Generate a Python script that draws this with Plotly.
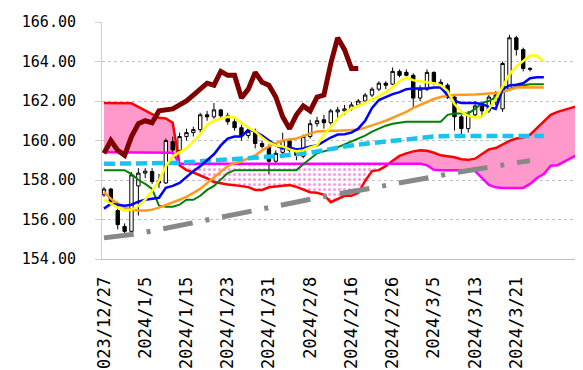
import plotly.graph_objects as go

# ---------------- data ----------------
tick_labels = ["2023/12/27", "2024/1/5", "2024/1/15", "2024/1/23", "2024/1/31",
               "2024/2/8", "2024/2/16", "2024/2/26", "2024/3/5", "2024/3/13", "2024/3/21"]
tick_pos = [0, 6, 12, 18, 24, 30, 36, 42, 48, 54, 60]

opens = [157.25, 157.54, 156.45, 155.65, 155.40, 157.70, 158.35, 158.43, 157.95, 157.85,
         159.95, 159.50, 160.20, 160.40, 160.55, 161.30, 161.20, 161.55, 161.25, 160.95,
         160.65, 160.25, 160.45, 159.85, 159.70, 158.95, 159.40, 160.00, 159.50, 159.20,
         160.20, 160.85, 161.05, 160.90, 161.45, 161.50, 161.60, 161.80, 162.00, 162.30,
         162.60, 162.90, 162.85, 163.50, 163.45, 163.30, 162.15, 162.60, 163.45, 162.95,
         162.80, 162.20, 161.20, 160.60, 161.30, 161.75, 161.50, 161.95, 161.60, 162.60,
         165.20, 164.60, 163.60]
highs = [157.65, 157.60, 156.90, 155.80, 158.40, 158.60, 158.60, 158.60, 158.30, 160.10,
         160.20, 160.40, 160.60, 160.70, 161.40, 161.50, 161.90, 161.60, 161.40, 161.10,
         160.80, 160.70, 160.60, 160.00, 159.80, 159.50, 160.40, 160.10, 159.60, 160.30,
         161.05, 161.20, 161.30, 161.60, 161.70, 161.80, 161.95, 162.10, 162.40, 162.70,
         163.00, 163.00, 163.70, 163.60, 163.60, 163.40, 162.80, 163.60, 163.50, 163.10,
         162.90, 162.30, 161.30, 161.50, 162.00, 161.85, 162.30, 162.50, 164.00, 165.35,
         165.30, 164.70, 163.70]
lows = [157.15, 156.80, 155.50, 155.25, 155.30, 156.20, 158.10, 157.80, 157.60, 157.80,
        159.40, 159.30, 160.00, 160.20, 160.40, 161.00, 161.10, 161.10, 160.80, 160.50,
        160.00, 160.10, 159.60, 159.60, 158.30, 158.80, 159.30, 159.40, 159.00, 159.10,
        160.10, 160.70, 160.60, 160.80, 161.00, 161.30, 161.50, 161.70, 161.85, 162.20,
        162.50, 162.60, 162.80, 163.20, 163.20, 161.70, 162.00, 162.50, 162.80, 162.60,
        162.10, 160.50, 160.20, 160.40, 161.20, 161.20, 161.40, 161.80, 161.45, 162.50,
        164.30, 163.50, 163.50]
closes = [157.54, 156.92, 155.74, 155.40, 158.26, 158.35, 158.45, 157.92, 157.85, 160.00,
          159.52, 160.20, 160.40, 160.55, 161.30, 161.20, 161.55, 161.25, 160.95, 160.65,
          160.25, 160.45, 159.85, 159.70, 158.95, 159.35, 160.00, 159.50, 159.25, 160.20,
          160.85, 161.00, 160.90, 161.50, 161.55, 161.60, 161.80, 162.00, 162.30, 162.60,
          162.90, 162.80, 163.50, 163.30, 163.30, 162.15, 162.60, 163.45, 162.95, 162.80,
          162.20, 161.20, 160.60, 161.30, 161.75, 161.50, 162.20, 162.30, 163.90, 165.20,
          164.60, 163.65, 163.65]
chikou_shift = 25

ma_yellow = [157.0, 156.8, 156.6, 156.45, 156.5, 156.68, 157.0, 157.45, 157.95, 158.7,
             159.2, 159.4, 159.6, 159.95, 160.3, 160.8, 161.0, 161.1, 161.2, 161.15,
             160.9, 160.65, 160.45, 160.15, 159.9, 159.75, 159.7, 159.55, 159.45, 159.5,
             159.65, 159.75, 160.3, 160.7, 161.1, 161.4, 161.6, 161.75, 161.9, 162.1,
             162.25, 162.45, 162.7, 163.0, 163.2, 163.05, 163.0, 162.95, 162.9, 162.8,
             162.5, 161.85, 161.45, 161.25, 161.17, 161.2, 161.6, 162.1, 162.7, 163.35,
             163.75, 164.05, 164.3, 164.3, 164.0]
line_blue = [156.55, 156.8, 156.75, 156.7, 156.75, 156.9, 157.0, 157.05, 157.1, 157.6,
             157.7, 157.85, 158.15, 158.45, 158.7, 159.0, 159.3, 159.75, 160.1, 160.2,
             160.2, 160.55, 160.45, 160.25, 160.0, 159.75, 159.6, 159.65, 159.55, 159.6,
             159.7, 159.75, 159.95, 160.15, 160.3, 160.32, 160.4, 160.6, 161.0, 161.65,
             162.05, 162.2, 162.35, 162.45, 162.6, 162.63, 162.63, 162.63, 162.68, 162.68,
             162.3, 162.0, 161.9, 161.9, 161.9, 161.85, 161.7, 161.6, 162.6, 162.78,
             162.82, 162.9, 163.15, 163.2, 163.2]
ma_orange = [157.4, 157.05, 156.8, 156.6, 156.5, 156.45, 156.45, 156.5, 156.6, 156.72,
             156.85, 157.0, 157.15, 157.35, 157.55, 157.85, 158.15, 158.4, 158.7, 158.85,
             158.95, 159.1, 159.25, 159.5, 159.7, 159.85, 160.0, 160.05, 160.1, 160.22,
             160.36, 160.45, 160.48, 160.5, 160.5, 160.52, 160.53, 160.55, 160.65, 160.75,
             160.88, 161.0, 161.15, 161.3, 161.45, 161.65, 161.8, 161.95, 162.1, 162.2,
             162.27, 162.3, 162.3, 162.3, 162.33, 162.35, 162.37, 162.4, 162.45, 162.55,
             162.68, 162.7, 162.7, 162.7, 162.68]
line_green = [158.5, 158.5, 158.5, 158.5, 158.3, 158.0, 157.8, 157.55, 156.7, 156.65,
              156.65, 156.75, 157.0, 157.0, 157.2, 157.5, 157.7, 158.0, 158.35, 158.5,
              158.5, 158.5, 158.5, 158.5, 158.5, 158.5, 158.5, 158.5, 158.5, 158.8,
              159.1, 159.35, 159.45, 159.55, 159.65, 159.8, 159.95, 160.1, 160.25, 160.45,
              160.6, 160.75, 160.85, 160.9, 160.95, 160.95, 160.95, 160.95, 160.95, 160.95,
              161.3, 161.37, 161.37, 161.37, 161.6, 161.9, 162.0, 162.2, 162.45, 162.6,
              162.72, 162.8, 162.85, 162.85, 162.85]
ma_cyan = [158.82, 158.82, 158.82, 158.82, 158.82, 158.82, 158.82, 158.82, 158.82, 158.82,
           158.82, 158.87, 158.9, 158.92, 158.93, 158.95, 158.97, 159.0, 159.02, 159.05,
           159.07, 159.1, 159.12, 159.15, 159.17, 159.2, 159.23, 159.26, 159.28, 159.32,
           159.38, 159.45, 159.52, 159.58, 159.65, 159.7, 159.75, 159.8, 159.84, 159.88,
           159.92, 159.95, 159.98, 160.02, 160.05, 160.1, 160.15, 160.2, 160.2, 160.22,
           160.23, 160.23, 160.23, 160.23, 160.23, 160.23, 160.23, 160.23, 160.23, 160.23,
           160.23, 160.23, 160.23, 160.23, 160.23]
ma_gray = [155.07, 155.1, 155.14, 155.18, 155.22, 155.28, 155.35, 155.42, 155.5, 155.58,
           155.65, 155.72, 155.79, 155.86, 155.93, 156.02, 156.1, 156.16, 156.22, 156.29,
           156.36, 156.44, 156.52, 156.59, 156.64, 156.69, 156.76, 156.82, 156.89, 156.95,
           157.02, 157.09, 157.16, 157.22, 157.3, 157.36, 157.42, 157.47, 157.53, 157.59,
           157.64, 157.69, 157.76, 157.83, 157.9, 157.96, 158.02, 158.09, 158.16, 158.23,
           158.31, 158.36, 158.4, 158.43, 158.5, 158.57, 158.64, 158.7, 158.77, 158.83,
           158.89, 158.93, 158.97]
span_a = [161.9, 161.9, 161.9, 161.9, 161.88, 161.7, 161.53, 161.35, 161.15, 161.12,
          160.9, 158.75, 158.5, 158.38, 158.25, 158.08, 157.9, 157.82, 157.77, 157.74,
          157.7, 157.64, 157.5, 157.5, 157.63, 157.68, 157.72, 157.75, 157.65, 157.52,
          157.38, 157.35, 157.25, 156.88, 157.05, 157.2, 157.2, 157.35, 157.95, 158.45,
          158.5, 158.7, 158.98, 159.22, 159.35, 159.45, 159.5, 159.48, 159.38, 159.25,
          159.2, 159.15, 159.05, 159.02, 159.08, 159.3, 159.55, 159.62, 159.8, 159.98,
          160.1, 160.16, 160.3, 160.62, 160.95, 161.3, 161.45, 161.56, 161.66, 161.76,
          161.82]
span_b = [159.4, 159.4, 159.4, 159.4, 159.4, 159.4, 159.4, 159.4, 159.4, 159.4,
          159.38, 158.82, 158.82, 158.82, 158.82, 158.82, 158.82, 158.82, 158.82, 158.82,
          158.82, 158.82, 158.82, 158.82, 158.82, 158.82, 158.82, 158.82, 158.82, 158.82,
          158.82, 158.82, 158.82, 158.82, 158.82, 158.82, 158.82, 158.82, 158.82, 158.82,
          158.82, 158.82, 158.82, 158.82, 158.82, 158.82, 158.82, 158.75, 158.52, 158.5,
          158.5, 158.5, 158.5, 158.5, 158.45, 158.1, 157.75, 157.63, 157.59, 157.59,
          157.59, 157.6, 157.8, 158.1, 158.3, 158.72, 158.75, 158.95, 159.12, 159.3,
          159.4]

# ---------------- figure ----------------
xc = list(range(len(closes)))
xl = list(range(len(ma_yellow)))
xk = list(range(len(span_a)))


def cloud_regions(xs, a, b):
    regions = []
    cur = None
    for k in range(len(xs)):
        s = a[k] >= b[k]
        if cur is None:
            cur = [s, [xs[k]], [a[k]], [b[k]]]
        elif s == cur[0]:
            cur[1].append(xs[k]); cur[2].append(a[k]); cur[3].append(b[k])
        else:
            d0 = a[k - 1] - b[k - 1]
            d1 = a[k] - b[k]
            t = d0 / (d0 - d1)
            xi = xs[k - 1] + t * (xs[k] - xs[k - 1])
            yi = a[k - 1] + t * (a[k] - a[k - 1])
            cur[1].append(xi); cur[2].append(yi); cur[3].append(yi)
            regions.append(cur)
            cur = [s, [xi, xs[k]], [yi, a[k]], [yi, b[k]]]
    regions.append(cur)
    return regions


fig = go.Figure()

# cloud fills (base layer)
for s, rx, ra, rb in cloud_regions(xk, span_a, span_b):
    px = rx + rx[::-1]
    py = ra + rb[::-1]
    if s:
        fig.add_trace(go.Scatter(x=px, y=py, fill="toself", mode="lines",
                                 line=dict(width=0), fillcolor="#FF99CC",
                                 hoverinfo="skip", xaxis="x", yaxis="y"))
    else:
        fig.add_trace(go.Scatter(x=px, y=py, fill="toself", mode="lines",
                                 line=dict(width=0), fillcolor="rgba(0,0,0,0)",
                                 fillpattern=dict(shape=".", fgcolor="#FF33CC",
                                                  bgcolor="#FFFFFF", size=5, solidity=0.3),
                                 hoverinfo="skip", xaxis="x", yaxis="y"))

# candles (overlay 2)
fig.add_trace(go.Candlestick(
    x=xc, open=opens, high=highs, low=lows, close=closes,
    increasing=dict(line=dict(color="black", width=1), fillcolor="white"),
    decreasing=dict(line=dict(color="black", width=1), fillcolor="black"),
    xaxis="x2", yaxis="y2", hoverinfo="skip"))

# lines (overlay 3)
def add_line(x, y, color, width, dash="solid"):
    fig.add_trace(go.Scatter(x=x, y=y, mode="lines",
                             line=dict(color=color, width=width, dash=dash),
                             hoverinfo="skip", xaxis="x3", yaxis="y3"))

add_line(xk, span_a, "#FF0000", 2.5)
add_line(xk, span_b, "#FF00FF", 2.5)
add_line(xc[:len(ma_gray)], ma_gray, "#888888", 5, "30px,13px,4px,13px")
add_line(xl, line_green, "#008000", 2)
add_line(xl, ma_orange, "#FF9A1F", 2.5)
add_line(xl, ma_cyan, "#19C3F0", 4.5, "11px,5px")
add_line(xl, line_blue, "#0000FF", 2.5)
add_line(xl, ma_yellow, "#FFFF00", 2.5)
add_line([i - chikou_shift for i in xc[chikou_shift:]], closes[chikou_shift:], "#800000", 5)

xr = [-0.29, 69.7]
yr = [154, 166]

# the page body adds an 8px margin, so the figure is 8px smaller and margins shifted
fig.update_layout(
    width=575, height=362,
    margin=dict(l=93.5, r=0, t=13.5, b=110.5, autoexpand=False),
    paper_bgcolor="white", plot_bgcolor="white",
    showlegend=False,
    xaxis=dict(range=xr, tickmode="array", tickvals=tick_pos, ticktext=tick_labels,
               tickangle=-90, showgrid=False, zeroline=False,
               showline=True, linecolor="#BFBFBF", linewidth=1,
               ticks="", ticklabelstandoff=10, automargin=False,
               tickfont=dict(family="DejaVu Sans Mono", size=17, color="black")),
    yaxis=dict(range=yr, tickmode="array", tickvals=[154, 156, 158, 160, 162, 164, 166],
               tickformat=".2f", showgrid=True, gridcolor="#BFBFBF", griddash="dot",
               gridwidth=1, zeroline=False, showline=True, linecolor="#D0D0D0",
               linewidth=1, ticks="outside", ticklen=6, tickcolor="#D0D0D0",
               ticklabelstandoff=16, automargin=False,
               tickfont=dict(family="DejaVu Sans Mono", size=15, color="black")),
    xaxis2=dict(range=xr, overlaying="x", visible=False, rangeslider=dict(visible=False)),
    yaxis2=dict(range=yr, overlaying="y", visible=False),
    xaxis3=dict(range=xr, overlaying="x", visible=False),
    yaxis3=dict(range=yr, overlaying="y", visible=False),
)

fig.write_html("out.html")
